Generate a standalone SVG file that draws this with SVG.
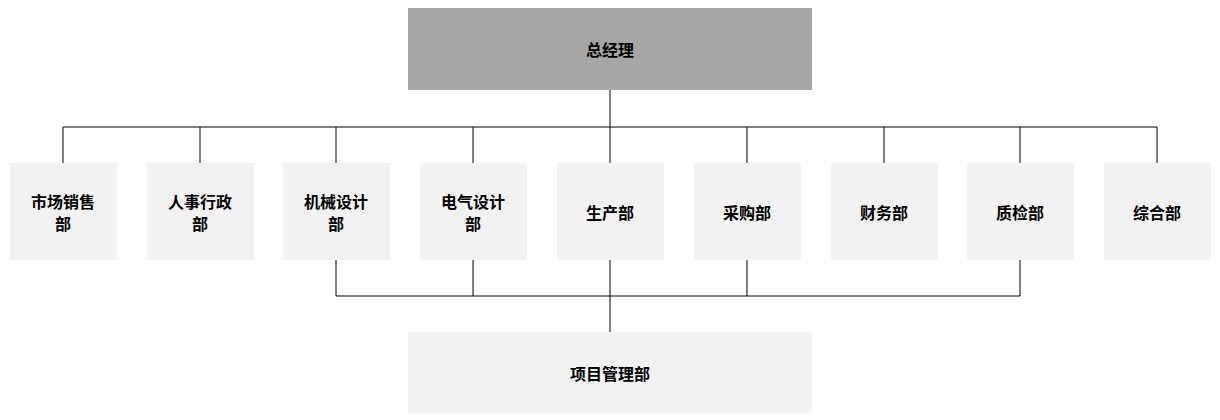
<svg xmlns="http://www.w3.org/2000/svg" width="1220" height="420" viewBox="0 0 1220 420">
<style>
.b{fill:#f2f2f2}
.t{font-family:"Noto Sans CJK SC","Liberation Sans",sans-serif;font-weight:bold;font-size:16px;fill:#000;text-anchor:middle;dominant-baseline:central}
.c{stroke:#000;stroke-width:1;fill:none}
</style>
<rect width="1220" height="420" fill="#fff"/>
<g id="connectors">
<path class="c" d="M610 90V127M63 127H1157M63 127V163M200 127V163M336 127V163M473 127V163M610 127V163M747 127V163M884 127V163M1020 127V163M1157 127V163"/>
<path class="c" d="M336 260V296H1020V260M473 260V296M747 260V296M610 260V332"/>
</g>
<g id="gm"><rect x="408" y="8" width="404" height="82" fill="#a6a6a6"/><text class="t" x="610" y="49">总经理</text></g>
<g id="n1"><rect class="b" x="10" y="163" width="107" height="97"/><text class="t" x="63" y="201">市场销售</text><text class="t" x="63" y="223">部</text></g>
<g id="n2"><rect class="b" x="147" y="163" width="107" height="97"/><text class="t" x="200" y="201">人事行政</text><text class="t" x="200" y="223">部</text></g>
<g id="n3"><rect class="b" x="283" y="163" width="107" height="97"/><text class="t" x="336" y="201">机械设计</text><text class="t" x="336" y="223">部</text></g>
<g id="n4"><rect class="b" x="420" y="163" width="107" height="97"/><text class="t" x="473" y="201">电气设计</text><text class="t" x="473" y="223">部</text></g>
<g id="n5"><rect class="b" x="557" y="163" width="107" height="97"/><text class="t" x="610" y="212">生产部</text></g>
<g id="n6"><rect class="b" x="694" y="163" width="107" height="97"/><text class="t" x="747" y="212">采购部</text></g>
<g id="n7"><rect class="b" x="831" y="163" width="107" height="97"/><text class="t" x="884" y="212">财务部</text></g>
<g id="n8"><rect class="b" x="967" y="163" width="107" height="97"/><text class="t" x="1020" y="212">质检部</text></g>
<g id="n9"><rect class="b" x="1104" y="163" width="107" height="97"/><text class="t" x="1157" y="212">综合部</text></g>
<g id="pm"><rect class="b" x="408" y="332" width="404" height="81"/><text class="t" x="610" y="373">项目管理部</text></g>
</svg>
